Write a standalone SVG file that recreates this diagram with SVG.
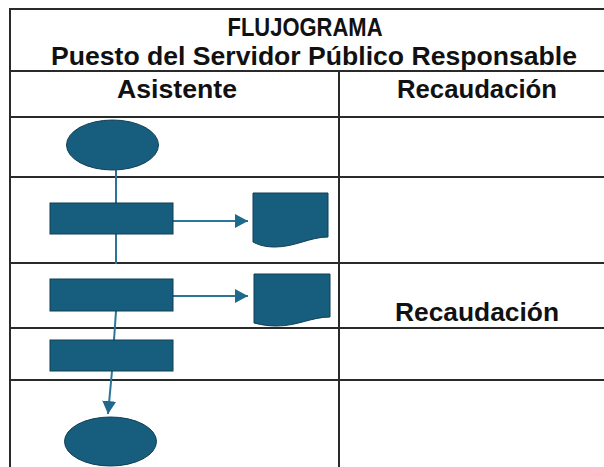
<svg xmlns="http://www.w3.org/2000/svg" width="604" height="467" viewBox="0 0 604 467">
<defs>
<style>
.grid{stroke:#2a2a2a;stroke-width:2;fill:none}
.t{font-family:"Liberation Sans",Arial,sans-serif;font-weight:bold;font-size:25px;fill:#111}
.shape{fill:#175E7E;stroke:#0E3E55;stroke-width:1}
.con{stroke:#2A7598;stroke-width:2;fill:none}
</style>
<marker id="ah" markerWidth="13" markerHeight="14" refX="13" refY="7" orient="auto" markerUnits="userSpaceOnUse">
<path d="M0,0 L13,7 L0,14 Z" fill="#1F6A8C"/>
</marker>
</defs>
<rect width="604" height="467" fill="#fff"/>
<g id="table">
<path class="grid" d="M10,467 V9 H604 M10,71 H604 M10,117 H604 M10,177 H604 M10,263 H604 M10,328 H604 M10,380 H604 M339,71 V467"/>
<text class="t" x="305" y="36" text-anchor="middle" textLength="155" lengthAdjust="spacingAndGlyphs">FLUJOGRAMA</text>
<text class="t" x="51" y="65" textLength="526" lengthAdjust="spacingAndGlyphs">Puesto del Servidor Público Responsable</text>
<text class="t" x="117" y="98" textLength="120" lengthAdjust="spacingAndGlyphs">Asistente</text>
<text class="t" x="397" y="98" textLength="160" lengthAdjust="spacingAndGlyphs">Recaudación</text>
<text class="t" x="395" y="321" textLength="164" lengthAdjust="spacingAndGlyphs">Recaudación</text>
</g>
<g id="connectors">
<path class="con" d="M116,170 V203"/>
<path class="con" d="M116,234 V264"/>
<path class="con" d="M116,311 L114,340"/>
<path class="con" d="M112,371 L108,414" marker-end="url(#ah)"/>
<path class="con" d="M173,221 H248" marker-end="url(#ah)"/>
<path class="con" d="M173,296 H248" marker-end="url(#ah)"/>
</g>
<g id="start"><ellipse class="shape" cx="112.5" cy="145" rx="46" ry="25"/></g>
<g id="process1"><rect class="shape" x="50" y="203" width="123" height="31"/></g>
<g id="doc1"><path class="shape" d="M253,193 H328 V237 C310,237 295,247 275,247 C263,247 257,244 253,242 Z"/></g>
<g id="process2"><rect class="shape" x="50" y="279" width="123" height="32"/></g>
<g id="doc2"><path class="shape" d="M254,274 H330 V317 C312,317 297,326 277,326 C265,326 259,324 254,323 Z"/></g>
<g id="process3"><rect class="shape" x="50" y="340" width="123" height="31"/></g>
<g id="end"><ellipse class="shape" cx="110.5" cy="441.5" rx="46" ry="24.5"/></g>
</svg>
